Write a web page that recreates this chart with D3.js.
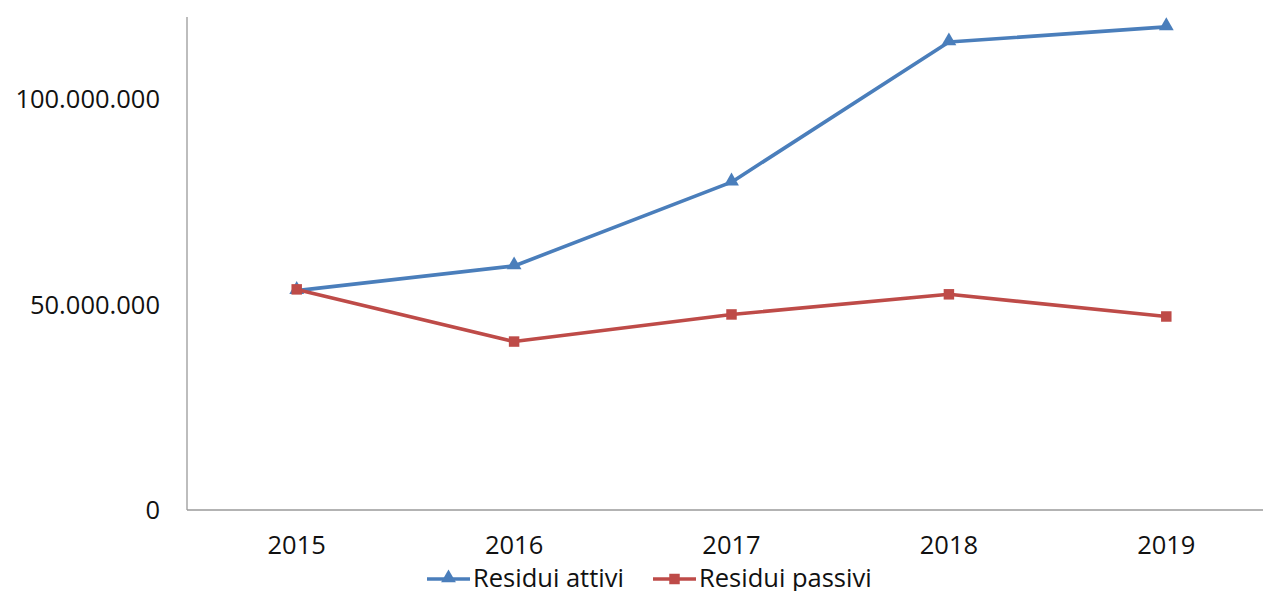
<!DOCTYPE html>
<html>
<head>
<meta charset="utf-8">
<script src="https://cdn.jsdelivr.net/npm/d3@7"></script>
<style>
  html, body { margin: 0; padding: 0; background: #fff; }
  svg { display: block; font-family: "Open Sans", sans-serif; }
</style>
</head>
<body>
<svg id="chart" width="1263" height="591"></svg>
<script>
// values
const years = ["2015", "2016", "2017", "2018", "2019"];
const attivi = [53400000, 59400000, 79800000, 113900000, 117600000];
const passivi = [53700000, 41000000, 47600000, 52500000, 47100000];
const yTicks = [0, 50000000, 100000000];
const seriesNames = ["Residui attivi", "Residui passivi"];

const W = 1263, H = 591;
const X0 = 187, X1 = 1274, Y0 = 510, Y1 = 17;
const BLUE = "#4A7EBB", RED = "#BE4B48", AXIS = "#9a9a9a";
const FS = 25.5;

const svg = d3.select("#chart");

const x = d3.scaleBand().domain(years).range([X0 + 1, X1 + 1]);
const y = d3.scaleLinear().domain([0, 120000000]).range([Y0, Y1]);
const cx = (d) => x(d) + x.bandwidth() / 2;

const fmt = (v) => d3.format(",")(v).replace(/,/g, ".");

// axes
svg.append("line")
  .attr("x1", X0).attr("x2", X0).attr("y1", Y1).attr("y2", Y0)
  .attr("stroke", AXIS).attr("stroke-width", 1.3);
svg.append("line")
  .attr("x1", X0).attr("x2", W).attr("y1", Y0).attr("y2", Y0)
  .attr("stroke", AXIS).attr("stroke-width", 1.3);

svg.append("g").selectAll("text")
  .data(yTicks)
  .join("text")
  .attr("x", 160)
  .attr("y", (d) => y(d))
  .attr("dy", "0.35em")
  .attr("text-anchor", "end")
  .attr("font-size", FS)
  .attr("fill", "#111")
  .text(fmt);

svg.append("g").selectAll("text")
  .data(years)
  .join("text")
  .attr("x", cx)
  .attr("y", 545)
  .attr("dy", "0.35em")
  .attr("text-anchor", "middle")
  .attr("font-size", FS)
  .attr("fill", "#111")
  .text((d) => d);

// lines
const series = [
  { name: seriesNames[0], values: attivi, color: BLUE, marker: "tri" },
  { name: seriesNames[1], values: passivi, color: RED, marker: "sq" },
];
const line = d3.line().x((d) => cx(d.year)).y((d) => y(d.v));

const tri = d3.symbol().type(d3.symbolTriangle).size(95);
const sq = d3.symbol().type(d3.symbolSquare).size(110);

function drawMarker(g, kind, color) {
  g.append("path")
    .attr("d", kind === "tri" ? tri() : sq())
    .attr("transform", kind === "tri" ? "translate(0,-1)" : null)
    .attr("fill", color);
}

for (const s of series) {
  const pts = years.map((yr, i) => ({ year: yr, v: s.values[i] }));
  svg.append("path")
    .datum(pts)
    .attr("d", line)
    .attr("fill", "none")
    .attr("stroke", s.color)
    .attr("stroke-width", 3.6)
    .attr("stroke-linejoin", "round");
  svg.append("g").selectAll("g")
    .data(pts)
    .join("g")
    .attr("transform", (d) => `translate(${cx(d.year)},${y(d.v)})`)
    .each(function () { drawMarker(d3.select(this), s.marker, s.color); });
}

// legend (sits on the bottom edge, as in the reference)
const legend = [
  { s: series[0], x: 427 },
  { s: series[1], x: 653 },
];
const lg = svg.append("g").selectAll("g")
  .data(legend)
  .join("g")
  .attr("transform", (d) => `translate(${d.x},579)`);
lg.append("line")
  .attr("x1", 0).attr("x2", 43)
  .attr("stroke", (d) => d.s.color).attr("stroke-width", 3.6);
lg.append("g")
  .attr("transform", "translate(21.5,0)")
  .each(function (d) { drawMarker(d3.select(this), d.s.marker, d.s.color); });
lg.append("text")
  .attr("x", 46)
  .attr("dy", "0.3em")
  .attr("font-size", FS)
  .attr("fill", "#111")
  .text((d) => d.s.name);
</script>
</body>
</html>
